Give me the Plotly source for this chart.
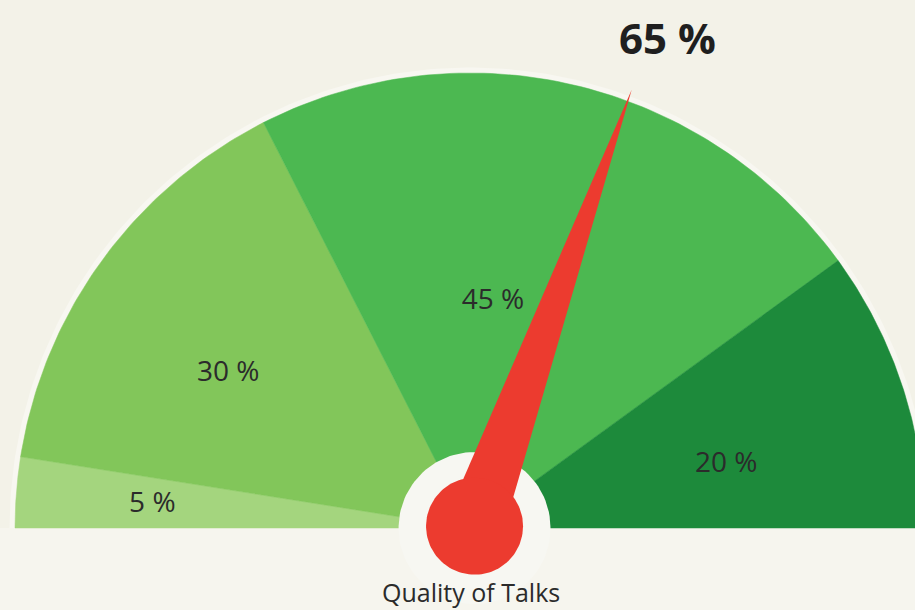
import numpy as np
import plotly.graph_objects as go

# ---- data ----
segment_values = [5, 30, 45, 20]              # share of each band (%)
segment_labels = ["5 %", "30 %", "45 %", "20 %"]
gauge_value = 65                              # headline value (%)
needle_position = 61                          # where the needle points (%)
gauge_title = "Quality of Talks"

# ---- styles ----
segment_colors = ["#a4d57e", "#82c65a", "#4cb851", "#1d8a3b"]
label_radius = [0.70, 0.63, 0.50, 0.58]
label_angle_shift = [0.4, 3.5, 7.7, -4.2]     # degrees
bg = "#f3f2e8"
red = "#ec3b2f"


def circle(cx, cy, r, n=120):
    t = np.linspace(0, 2 * np.pi, n)
    return cx + r * np.cos(t), cy + r * np.sin(t)


fig = go.Figure()

# soft halo around the dial
th = np.linspace(0, np.pi, 200)
halo_r = 1.012
fig.add_trace(go.Scatter(x=np.r_[halo_r * np.cos(th), 0], y=np.r_[halo_r * np.sin(th), 0],
                         fill="toself", fillcolor="#f8f7f1", line=dict(width=0),
                         mode="lines", hoverinfo="skip", showlegend=False))

total = sum(segment_values)
cum = 0.0
for v, col, lab, lr, sh in zip(segment_values, segment_colors, segment_labels,
                               label_radius, label_angle_shift):
    a0 = np.pi * (1 - cum / total)
    a1 = np.pi * (1 - (cum + v) / total)
    t = np.linspace(a0, a1, 80)
    xs = np.r_[0, np.cos(t), 0]
    ys = np.r_[0, np.sin(t), 0]
    fig.add_trace(go.Scatter(x=xs, y=ys, fill="toself", fillcolor=col,
                             line=dict(width=0.5, color=col), mode="lines",
                             hoverinfo="skip", showlegend=False))
    am = (a0 + a1) / 2 + np.deg2rad(sh)
    fig.add_trace(go.Scatter(x=[lr * np.cos(am)], y=[lr * np.sin(am)], mode="text",
                             text=[lab], textposition="middle center",
                             textfont=dict(family="Open Sans", size=28, color="#2b2b2b"),
                             hoverinfo="skip", showlegend=False))
    cum += v

# base strip below the dial (slightly lighter)
fig.add_shape(type="rect", x0=-1.2, x1=1.2, y0=-0.3, y1=0,
              fillcolor="#f6f5ee", line=dict(width=0), layer="below")

# white ring around hub (drawn under the needle)
hub_cx, hub_cy = 0.010, 0.004
ring_r = 0.167
rx, ry = circle(hub_cx, 0, ring_r)
fig.add_trace(go.Scatter(x=rx, y=ry, fill="toself", fillcolor="#f7f7f2", line=dict(width=0),
                         mode="lines", hoverinfo="skip", showlegend=False))

# needle
ang = np.pi * (1 - needle_position / 100)
tip_r = 1.02
hw = 0.064
px, py = -np.sin(ang), np.cos(ang)
nx = [hub_cx + hw * px, hub_cx + tip_r * np.cos(ang), hub_cx - hw * px, hub_cx + hw * px]
ny = [hub_cy + hw * py, hub_cy + tip_r * np.sin(ang), hub_cy - hw * py, hub_cy + hw * py]
fig.add_trace(go.Scatter(x=nx, y=ny, fill="toself", fillcolor=red, line=dict(width=0),
                         mode="lines", hoverinfo="skip", showlegend=False))

# hub
hub_r = 0.1066
hx, hy = circle(hub_cx, hub_cy, hub_r)
fig.add_trace(go.Scatter(x=hx, y=hy, fill="toself", fillcolor=red, line=dict(width=0),
                         mode="lines", hoverinfo="skip", showlegend=False))

fig.add_annotation(x=0.435, y=1.077, text=f"<b>{gauge_value} %</b>", showarrow=False,
                   font=dict(family="Open Sans", size=42, color="#1f1f1f"),
                   xanchor="center", yanchor="middle")
fig.add_annotation(x=0.002, y=-0.1407, text=gauge_title, showarrow=False,
                   font=dict(family="Open Sans", size=25, color="#2b2b2b"),
                   xanchor="center", yanchor="middle")

fig.update_layout(
    width=915, height=610, autosize=False,
    margin=dict(l=0, r=0, t=0, b=0),
    paper_bgcolor=bg, plot_bgcolor=bg,
    xaxis=dict(range=[-470 / 455, 445 / 455], visible=False, fixedrange=True),
    yaxis=dict(range=[-82 / 455, 528 / 455], visible=False, fixedrange=True),
    showlegend=False,
)

fig.write_html("out.html", config={"displayModeBar": False},
               post_script="document.body.style.margin='0';document.body.style.background='%s';" % bg)
